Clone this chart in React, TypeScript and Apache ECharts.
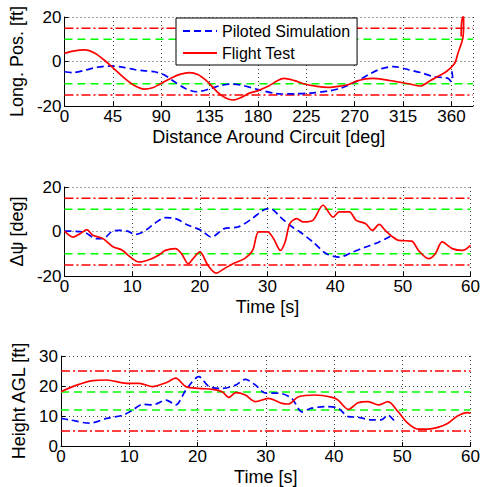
import React, { useEffect, useRef } from "react";
import * as echarts from "echarts";

// ---------- data ----------
const longPosSim: number[][] = [
  [0, -4.6], [8, -5], [20, -3.8], [30, -2.6], [43, -2], [55, -2.6], [65, -3.6], [75, -4.2],
  [84, -4.6], [93, -6.1], [102, -9], [112, -12], [123, -13.6], [135, -12.3], [145, -10.8],
  [155, -10.1], [166, -10.8], [179, -12.5], [195, -14.3], [202, -14.6], [215, -14.5],
  [229, -14.2], [245, -13.3], [257, -12], [269, -9.5], [277, -7.5], [285, -5.3],
  [295, -3.2], [306, -2.3], [321, -3.8], [333, -5.2], [343, -6.8], [352, -7.2],
  [357, -7.6], [360, -9.1], [361, -6.8], [360, -3.8],
];
const longPosFlight: number[][] = [
  [0, 3.7], [8, 4.7], [19, 5.2], [28, 3.8], [36, 1], [44, -2.3], [56, -7.6], [65, -10.8],
  [74, -12.4], [82, -11.8], [89, -10.1], [100, -7.3], [108, -5.7], [116, -5], [124, -5.8],
  [133, -9], [142, -13.6], [150, -16.4], [157, -17.3], [165, -16], [172, -14.2], [179, -13.3],
  [183, -12.5], [190, -11], [195, -9.5], [204, -7.6], [214, -8.6], [223, -10.1], [235, -11.2],
  [245, -11.6], [257, -11], [265, -10.2], [272, -8.8], [280, -7.8], [287, -7.6], [296, -8],
  [306, -8.8], [321, -10.1], [331, -11], [340, -8.7], [348, -6.5], [355, -4.6], [363, -0.8],
  [366, 3.7], [370.5, 10.4], [371.3, 17.2], [371, 20.5], [369.5, 18], [369, 11.2],
];
const headingSim: number[][] = [
  [0, 0.2], [2.8, -0.2], [4.7, -3.2], [5.7, -3.2], [7.1, 0.2], [8.1, 0.5], [9.3, 0.2], [10.5, -1.3],
  [12, 0.5], [13.4, 3.8], [14.9, 6.2], [16.4, 5.8], [18.3, 2.8], [20.2, 0.5], [21.7, -2.5],
  [23.6, 1.3], [25.6, 2], [27.5, 5.3], [29.5, 9.8], [30.4, 10.3], [31.9, 6.5], [33.3, 2.8],
  [34.8, -0.2], [36.7, -4.7], [38.7, -10], [40.6, -11.5], [42.6, -9.2], [44.5, -7],
  [46.5, -4.7], [48.4, -1.7],
];
const headingFlight: number[][] = [
  [0, 0.2], [1.3, -2.5], [2.3, -1], [3.3, 0.8], [4.2, -1.7], [5.7, -3.2], [7.1, -6.7], [8.6, -8.5],
  [9.6, -11.2], [11, -13.7], [12.5, -12.7], [13.9, -10.7], [14.9, -8.5], [16.4, -7.7], [17.3, -10],
  [18.3, -14.5], [19, -12.2], [20, -9.2], [21.2, -15.2], [22.4, -18.7], [23.6, -16.7], [25.1, -14.2],
  [26.6, -12.2], [27.8, -8.5], [28.7, -0.2], [30, -0.2], [30.9, -3.2], [31.9, -8.5], [32.6, -4.7],
  [33.3, 3.5], [34.3, 5.8], [35.3, 4.3], [36.7, 5], [38.2, 11.8], [39.7, 6.5], [40.6, 8.8],
  [42.1, 8.8], [43.1, 5], [44.5, 3.5], [45.5, 0.5], [46.5, 3.2], [47.4, 0.5], [48.4, -2.2],
  [49.4, -4], [51.3, -4.3], [52.3, -8.5], [53.8, -12.2], [54.8, -10], [55.8, -4.7], [57.3, -7.7],
  [58.8, -8.5], [60, -6.2],
];
const heightSim: number[][] = [
  [0, 9.2], [1.3, 8.7], [4.2, 7.6], [6.7, 9.2], [9.1, 10.3], [10.5, 12], [12, 13.9], [13.4, 13.7],
  [15.4, 15.3], [16.8, 13.7], [18.3, 18.7], [20.2, 23.1], [21.7, 19.8], [23.6, 19.2], [25.6, 20.3],
  [27, 22.2], [28.5, 20.3], [30, 17.6], [31.9, 17.6], [33.8, 15.9], [35.3, 11.4], [36.7, 12.6],
  [38.7, 13.1], [40.6, 12.6], [42.1, 9.8], [43.5, 9.6], [45.5, 8.7], [46.9, 8.7], [47.9, 10.3],
  [48.9, 8.1],
];
const heightFlight: number[][] = [
  [0, 18.1], [2.3, 20.3], [4.7, 21.8], [6.7, 22], [9.6, 20.9], [11.5, 20.9], [13.4, 19.8],
  [15.4, 21.1], [16.8, 22.6], [18.3, 19.8], [20.2, 19.2], [22.2, 18.9], [23.6, 18.1], [24.6, 16.2],
  [25.6, 17.8], [27, 17], [28.5, 14.8], [30.4, 15.9], [32.4, 14.2], [33.3, 14], [34.8, 16.4],
  [37.2, 17], [39.7, 16.2], [40.6, 15.3], [42.1, 12.2], [43.5, 14.4], [45, 14.8], [46.5, 13.7],
  [47.9, 14.8], [49.4, 11.4], [50.8, 7.6], [52.3, 5.6], [53.7, 5.6], [55.2, 6.2], [56.7, 7.6],
  [58.1, 10], [59.6, 11.1], [60, 10.9],
];
const posRedLimits = [-15, 15];
const posGreenLimits = [-10, 10];
const headingRedLimits = [-15, 15];
const headingGreenLimits = [-10, 10];
const heightRedLimits = [5, 25];
const heightGreenLimits = [12, 18];

const seriesNames = ["Piloted Simulation", "Flight Test"];
const axisTitles = {
  x1: "Distance Around Circuit [deg]",
  y1: "Long. Pos. [ft]",
  x2: "Time [s]",
  y2: "\u0394\u03c8 [deg]",
  x3: "Time [s]",
  y3: "Height AGL [ft]",
};

// ---------- styles ----------
const FONT = "'Liberation Sans', Arial, Helvetica, sans-serif";
const BLUE = "#0000ff";
const RED = "#ff0000";
const GREEN = "#00ff00";

function xAxis(idx: number, min: number, max: number, interval: number, name: string, showMax: boolean) {
  return {
    type: "value",
    gridIndex: idx,
    min,
    max,
    interval,
    name,
    nameLocation: "middle",
    nameGap: 22,
    nameTextStyle: { fontFamily: FONT, fontSize: 18, color: "#000" },
    axisLine: { onZero: false, lineStyle: { color: "#000", width: 1 } },
    axisTick: { inside: true, length: 4, lineStyle: { color: "#000" } },
    axisLabel: { fontFamily: FONT, fontSize: 17, color: "#000", margin: 2, showMaxLabel: showMax },
    splitLine: { show: true, lineStyle: { color: "#444", type: [1, 3], width: 1 } },
  };
}
function yAxis(idx: number, min: number, max: number, interval: number, name: string, gap: number) {
  return {
    type: "value",
    gridIndex: idx,
    min,
    max,
    interval,
    name,
    nameLocation: "middle",
    nameRotate: 90,
    nameGap: gap,
    nameTextStyle: { fontFamily: FONT, fontSize: 18, color: "#000" },
    axisLine: { onZero: false, lineStyle: { color: "#000", width: 1 } },
    axisTick: { inside: true, length: 4, lineStyle: { color: "#000" } },
    axisLabel: { fontFamily: FONT, fontSize: 17, color: "#000", margin: 3 },
    splitLine: { show: true, lineStyle: { color: "#444", type: [1, 3], width: 1 } },
  };
}
function limitSeries(idx: number, xmin: number, xmax: number, values: number[], color: string, dash: number[]) {
  return values.map((v) => ({
    type: "line",
    name: "limit",
    xAxisIndex: idx,
    yAxisIndex: idx,
    data: [[xmin, v], [xmax, v]],
    symbol: "none",
    silent: true,
    z: 1,
    lineStyle: { color, width: 1.5, type: dash },
  }));
}
function dataSeries(idx: number, name: string, data: number[][], color: string, dashed: boolean) {
  return {
    type: "line",
    name,
    xAxisIndex: idx,
    yAxisIndex: idx,
    data,
    symbol: "none",
    showSymbol: false,
    smooth: 0.3,
    clip: true,
    z: 3,
    lineStyle: { color, width: 1.7, type: dashed ? [7, 4] : "solid" },
    itemStyle: { color },
  };
}

const GREEN_DASH = [8, 5];
const RED_DASHDOT = [9, 3, 2, 3];

export default function App() {
  const ref = useRef<HTMLDivElement>(null);
  useEffect(() => {
    if (!ref.current) return;
    const chart = echarts.init(ref.current, undefined, { renderer: "svg" });
    chart.setOption({
      animation: false,
      backgroundColor: "#fff",
      grid: [
        { left: 61, top: 17, width: 412, height: 89 },
        { left: 61, top: 187, width: 412, height: 89 },
        { left: 61, top: 356, width: 412, height: 90 },
      ],
      xAxis: [
        xAxis(0, 0, 380, 45, axisTitles.x1, false),
        xAxis(1, 0, 60, 10, axisTitles.x2, true),
        xAxis(2, 0, 60, 10, axisTitles.x3, true),
      ],
      yAxis: [
        yAxis(0, -20, 20, 20, axisTitles.y1, 35),
        yAxis(1, -20, 20, 20, axisTitles.y2, 35),
        yAxis(2, 0, 30, 10, axisTitles.y3, 30),
      ],
      legend: {
        data: seriesNames,
        orient: "vertical",
        left: 176,
        top: 18,
        itemWidth: 34,
        itemHeight: 14,
        itemGap: 6,
        padding: [5, 7, 4, 6],
        backgroundColor: "#fff",
        borderColor: "#000",
        borderWidth: 1,
        borderRadius: 0,
        itemStyle: { opacity: 0 },
        textStyle: { fontFamily: FONT, fontSize: 16, color: "#000" },
        z: 10,
      },
      series: [
        ...limitSeries(0, 0, 380, posRedLimits, RED, RED_DASHDOT),
        ...limitSeries(0, 0, 380, posGreenLimits, GREEN, GREEN_DASH),
        ...limitSeries(1, 0, 60, headingRedLimits, RED, RED_DASHDOT),
        ...limitSeries(1, 0, 60, headingGreenLimits, GREEN, GREEN_DASH),
        ...limitSeries(2, 0, 60, heightRedLimits, RED, RED_DASHDOT),
        ...limitSeries(2, 0, 60, heightGreenLimits, GREEN, GREEN_DASH),
        dataSeries(0, seriesNames[0], longPosSim, BLUE, true),
        dataSeries(0, seriesNames[1], longPosFlight, RED, false),
        dataSeries(1, seriesNames[0], headingSim, BLUE, true),
        dataSeries(1, seriesNames[1], headingFlight, RED, false),
        dataSeries(2, seriesNames[0], heightSim, BLUE, true),
        dataSeries(2, seriesNames[1], heightFlight, RED, false),
      ],
    });
    return () => chart.dispose();
  }, []);
  return <div ref={ref} style={{ width: 483, height: 487, position: "absolute", left: 0, top: 0 }} />;
}
